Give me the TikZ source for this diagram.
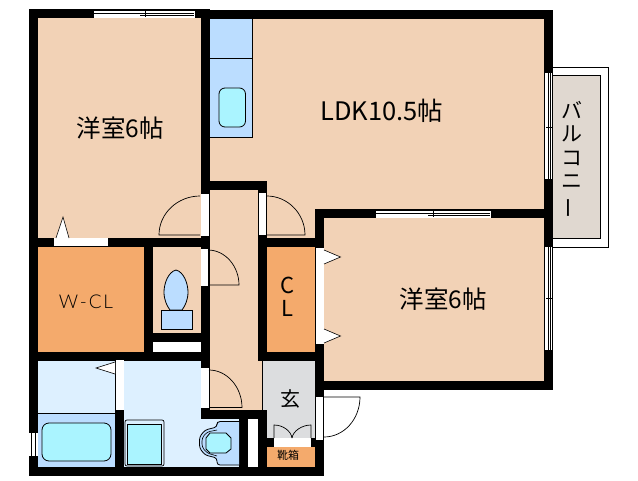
\documentclass[tikz,border=0pt]{standalone}
\usepackage{fontspec}
\setmainfont{Noto Sans CJK JP}
\newfontfamily\thinfont[LetterSpace=10]{Lato Light}
\usepackage{graphicx}
\definecolor{roomcol}{HTML}{F2D2B6}
\definecolor{closetcol}{HTML}{F4AA6C}
\definecolor{fixturecol}{HTML}{BBDDFF}
\definecolor{basincol}{HTML}{AAF4FF}
\definecolor{bathcol}{HTML}{DDF0FF}
\definecolor{entrycol}{HTML}{DCDDDF}
\definecolor{balconycol}{HTML}{E0D8D0}
\tikzset{
    wall/.style={fill=black,draw=none},
    gap/.style={fill=white,draw=none},
    fixture/.style={fill=fixturecol,draw=black,line width=0.8pt},
    basin/.style={fill=basincol,draw=black,line width=0.8pt},
    swing/.style={draw=black,line width=0.7pt},
    thin line/.style={draw=black,line width=0.6pt},
    marker/.style={fill=white,draw=black,line width=0.6pt},
    big label/.style={font=\fontsize{24.5}{25}\selectfont,inner sep=0pt},
}
\begin{document}
\begin{tikzpicture}[x=1pt,y=-1pt]
    \useasboundingbox (0,0) rectangle (638,480);
    \fill[white] (0,0) rectangle (638,480);
    % balcony
    \draw[fill=white,draw=black,line width=0.7pt] (552,67) rectangle (608,247);
    \draw[fill=balconycol,draw=black,line width=0.7pt] (552,75) rectangle (600.5,238);
    % floors
    \fill[roomcol] (37,18) rectangle (202,239);
    \fill[roomcol] (209,18) -- (545,18) -- (545,210) -- (316,210) -- (316,239) -- (266,239) -- (266,185) -- (209,185) -- cycle;
    \fill[roomcol] (323,217) rectangle (545,382);
    \fill[roomcol] (208,189) -- (259,189) -- (259,361) -- (262,361) -- (262,411) -- (208,411) -- cycle;
    \fill[roomcol] (153,247) rectangle (202,334);
    \fill[closetcol] (37,246) rectangle (145,353);
    \fill[closetcol] (266,246) rectangle (316,353);
    \fill[closetcol] (266,446) rectangle (316,467);
    \fill[entrycol] (262,360) -- (316,360) -- (316,439) -- (266,439) -- (266,411) -- (262,411) -- cycle;
    \fill[bathcol] (37,360) -- (202,360) -- (202,411) -- (240,411) -- (240,468) -- (37,468) -- cycle;
    \draw[thin line] (262,361) -- (262,410);
    % kitchen
    \draw[fixture] (209.5,18.5) rectangle (252,137);
    \draw[thin line] (209.5,58) -- (252,58);
    \draw[basin,rounded corners=6pt] (219,88) rectangle (245.5,127);
    % walls
    \foreach \xa/\ya/\xb/\yb in {
        29/9/209/18, 209/10/552/18.5, 29/9/37.5/476, 201/9/209.5/361,
        29/238/209/247, 29/352/209.5/361, 144/247/153/352, 153/333/202/352,
        201/361/209.5/419, 201/410/267/419, 239/410/267/476, 29/467/324/476,
        115/361/124/467, 258/181/267/361, 209/181/267/190, 258/238/324/247,
        258/352/324/361, 315/209/324/476, 315/209/552.5/217.5, 543.5/10/552.5/390,
        315/381/552.5/390, 267/438/315/447
    }{
        \fill[wall] (\xa,\ya) rectangle (\xb,\yb);
    }
    % door and window openings
    \foreach \xa/\ya/\xb/\yb in {
        201/194/208.5/236, 258.5/193/266/235, 200.5/249/208/286, 201/368/208.5/408,
        316/248/323.5/344, 316/397/323/440, 274/438/311/447, 54/238/108/246,
        153/342/201/352, 248/419/258/467, 115.5/360/123.5/410
    }{
        \fill[gap] (\xa,\ya) rectangle (\xb,\yb);
    }
    % horizontal sliding windows
    \foreach \xa/\xb/\xm/\y in {94/194.5/145/10, 376/490.5/433/210}{
        \fill[gap] (\xa,\y) rectangle (\xb,\y+8);
        \draw[thin line] (\xa,\y+0.5) -- (\xb,\y+0.5);
        \draw[thin line] (\xa,\y+3) -- (\xb-1,\y+3);
        \draw[thin line] (\xm-5,\y+5) -- (\xb-1,\y+5);
        \draw[thin line] (\xm,\y+1) -- (\xm,\y+7);
    }
    % vertical sliding windows
    \foreach \ya/\yb/\ym in {73/179/127, 247/350/298}{
        \fill[gap] (544,\ya) rectangle (552,\yb);
        \draw[thin line] (544.5,\ya) -- (544.5,\yb);
        \draw[thin line] (548,\ya) -- (548,\yb);
        \draw[thin line] (550.5,\ya) -- (550.5,\yb);
        \draw[thin line] (546,\ym) -- (552,\ym);
    }
    % bath window
    \fill[gap] (29,433) rectangle (37.5,456);
    \draw[thin line] (31.5,433) -- (31.5,456);
    \draw[thin line] (35,433) -- (35,456);
    % door swings
    \draw[swing] (200,196) .. controls (178,196) and (159,213) .. (159,235) -- (200,235);
    \draw[swing] (267,196) .. controls (287,196) and (305,213) .. (305,235) -- (267,235);
    \draw[swing] (208,250) .. controls (225,250) and (239,266) .. (239,285) -- (208,285);
    \draw[swing] (209,370) .. controls (227,370) and (242,387) .. (242,407.5) -- (209,407.5);
    \draw[swing] (324,397) -- (360,397) .. controls (360,419) and (344,437) .. (324,437);
    % closet doors at the entry
    \draw[swing] (274,438) -- (274,425) .. controls (283,425) and (291,431) .. (292,438);
    \draw[swing] (311,438) -- (311,425) .. controls (302,425) and (293,431) .. (292,438);
    % direction markers
    \draw[marker] (56,238) -- (63,217) -- (69,238);
    \draw[marker] (115,362) -- (96,368) -- (115,374);
    \draw[marker] (324,250) -- (340.5,257) -- (324,264);
    \draw[marker] (324,329) -- (340.5,336) -- (324,343);
    % toilet
    \draw[fixture] (176,270) .. controls (168,272) and (164,284) .. (164,292) .. controls (164,300) and (167,306) .. (170,310) -- (182,310) .. controls (185,306) and (188,300) .. (188,292) .. controls (188,284) and (184,272) .. (176,270) -- cycle;
    \draw[fixture] (161,310) rectangle (192,329);
    % bath tub
    \fill[fixturecol] (37.5,413) rectangle (115,467);
    \draw[thin line] (37.5,413) -- (115,413);
    \draw[basin,rounded corners=7pt] (42,423) rectangle (111,461);
    % wash basin
    \draw[fill=bathcol,draw=black,line width=0.7pt,rounded corners=2pt] (125,420) rectangle (164,466);
    \draw[basin] (127,424) rectangle (161,464);
    % second toilet
    \draw[fixture,rounded corners=3pt] (239,421.5) -- (217,421.5) -- (217,427) -- (205,430) -- (199.5,437) -- (199.5,448) -- (205,455) -- (217,458) -- (217,465) -- (239,465);
    \draw[thin line,rounded corners=3pt] (217,430) -- (207,432) -- (202,438) -- (202,447) -- (207,453) -- (217,456);
    \draw[basin] (210,433) -- (226,433) -- (231,438) -- (231,449) -- (226,453) -- (210,453) -- (206,449) -- (206,438) -- cycle;
    % labels
    \node[big label] (westroom) at (120.5,128) {洋室6帖};
    \node[big label,font=\fontsize{25.5}{26}\selectfont] (ldk) at (382,111) {LDK10.5帖};
    \node[big label] (eastroom) at (443.5,299) {洋室6帖};
    \node[inner sep=0pt,align=center,font=\fontsize{21}{23.5}\selectfont] (balcony) at (572,159.5) {バ\\ル\\コ\\ニ\\\rotatebox[origin=c]{90}{ー}};
    \node[inner sep=0pt,font=\thinfont\fontsize{19}{19}\selectfont] (wcl) at (86,302) {W-CL};
    \node[inner sep=0pt,align=center,font=\fontsize{22}{23}\selectfont] (cl) at (287.5,297) {C\\L};
    \node[inner sep=0pt,font=\fontsize{20}{20}\selectfont] (entry) at (290,399) {玄};
    \node[inner sep=0pt,font=\fontsize{11}{11}\selectfont] (shoebox) at (288,455) {靴箱};
\end{tikzpicture}
\end{document}
